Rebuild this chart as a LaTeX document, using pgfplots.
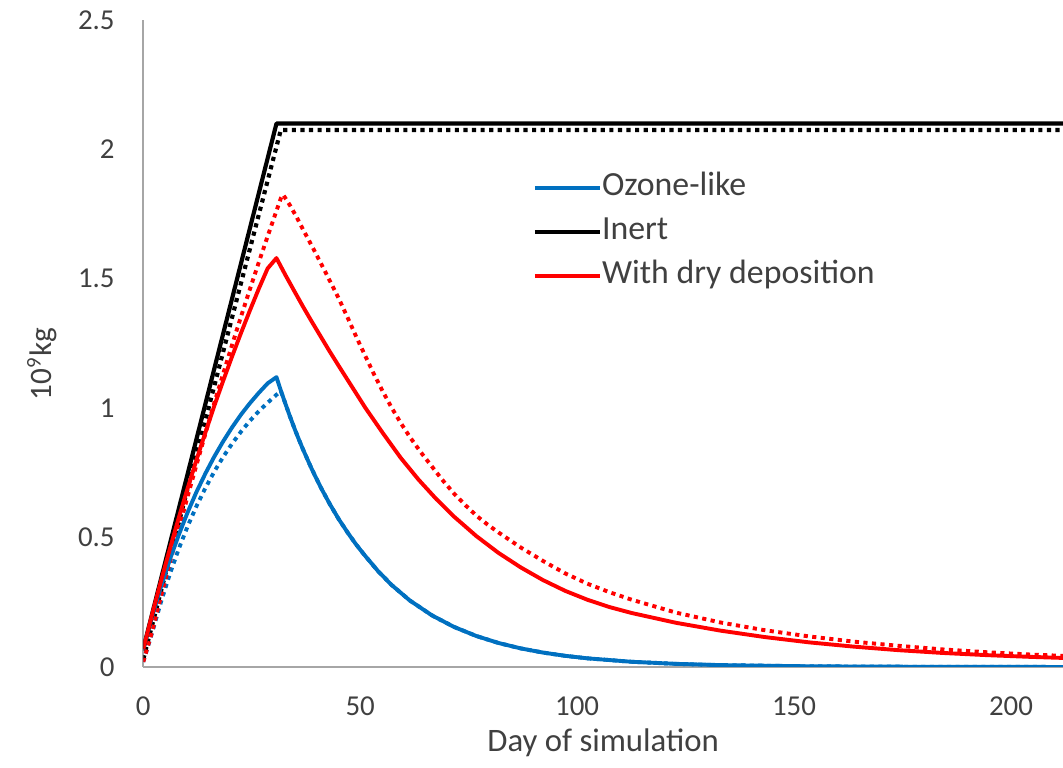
\documentclass[border=0pt]{standalone}
\usepackage{fontspec}
\setmainfont{Carlito}
\usepackage{pgfplots}
\pgfplotsset{compat=1.18}
\definecolor{ozblue}{RGB}{0,112,192}
\definecolor{axgray}{RGB}{166,166,166}
\definecolor{txt}{RGB}{64,64,64}
\newcommand{\tfont}{\fontsize{11.1}{13}\selectfont}
\newcommand{\lfont}{\fontsize{12.6}{15}\selectfont}
\newcommand{\yfont}{\fontsize{12}{15}\selectfont}
\newcommand{\gfont}{\fontsize{13}{15}\selectfont}
\begin{document}
\begin{tikzpicture}
\begin{axis}[
  scale only axis, width=353.7pt, height=248.8pt,
  xmin=0, xmax=212, ymin=0, ymax=2.5,
  axis x line*=bottom, axis y line*=left,
  axis line style={axgray, line width=0.8pt},
  xtick={0,50,100,150,200}, ytick={0,0.5,1,1.5,2,2.5},
  major tick length=0pt,
  /pgf/number format/assume math mode=true,
  tick label style={font=\tfont, text=txt},
  yticklabel style={xshift=-7.5pt},
  xticklabel style={anchor=base, yshift=-18.5pt},
  every axis x label/.style={at={(axis description cs:0.5,-0.1314)}, anchor=base, font=\lfont, text=txt},
  every axis y label/.style={at={(axis description cs:-0.11,0.468)}, rotate=90, anchor=center, font=\yfont, text=txt},
  xlabel={Day of simulation},
  ylabel={10\textsuperscript{9}kg},
  legend style={at={(axis description cs:0.423,0.6723)}, anchor=west, draw=none, fill=none,
    font=\gfont, text=txt, inner sep=0pt, row sep=5.9pt,
    nodes={inner sep=0pt, text height=8.5pt, text depth=2.5pt}},
  legend cell align=left,
  legend image code/.code={\draw[#1] (0pt,0pt) -- (25pt,0pt);},
  line join=round,
]
% dotted series (no legend)
\addplot[forget plot, ozblue, line width=1.5pt, dash pattern=on 1.6pt off 1.7pt] coordinates {
(0,0.02)(2.05,0.133)(4.09,0.252)(6.14,0.360)(8.19,0.457)(10.23,0.544)(12.28,0.622)(14.33,0.692)(16.37,0.755)(18.42,0.812)(20.47,0.863)(22.51,0.909)(24.56,0.951)(26.61,0.988)(28.66,1.021)(30.70,1.052)(31.73,1.066)(33.77,0.970)(34.80,0.924)(35.82,0.881)(36.84,0.840)(38.89,0.763)(40.94,0.693)(42.98,0.630)(45.03,0.572)(47.08,0.520)(49.12,0.472)(51.17,0.429)(54.24,0.368)(57.31,0.316)(61.40,0.2575)(66.52,0.1996)(71.64,0.1547)(76.76,0.1198)(81.87,0.0928)(86.99,0.0719)(92.11,0.0558)(97.22,0.0432)(102.34,0.0335)(112.57,0.0201)(122.81,0.0121)(133.04,0.0073)(153.51,0.0026)(184.21,0.0005)(212,0.0001)};
\addplot[forget plot, black, line width=1.6pt, dash pattern=on 1.6pt off 1.7pt] coordinates {
(0,0.03)(31.7,2.075)(212,2.075)};
\addplot[forget plot, red, line width=1.5pt, dash pattern=on 1.6pt off 1.7pt] coordinates {
(0,0.02)(2.05,0.138)(4.09,0.274)(6.14,0.405)(8.19,0.533)(10.23,0.660)(12.28,0.782)(14.33,0.902)(16.37,1.020)(18.42,1.133)(20.47,1.245)(22.51,1.353)(24.56,1.459)(26.61,1.563)(28.66,1.664)(30.70,1.763)(31.73,1.812)(32.24,1.825)(33.77,1.785)(35.30,1.74)(36.84,1.69)(38.89,1.626)(40.94,1.56)(42.98,1.493)(45.03,1.425)(47.08,1.351)(49.12,1.275)(51.17,1.202)(53.22,1.13)(55.26,1.063)(57.31,1.0)(59.35,0.943)(61.40,0.89)(63.96,0.830)(66.52,0.775)(69.08,0.720)(71.64,0.67)(74.20,0.626)(76.76,0.585)(79.31,0.551)(81.87,0.52)(86.99,0.462)(92.11,0.41)(97.22,0.362)(102.34,0.322)(107.46,0.289)(112.57,0.26)(122.81,0.21)(133.04,0.172)(143.28,0.142)(153.51,0.118)(163.74,0.098)(173.98,0.082)(184.21,0.068)(194.45,0.057)(204.68,0.048)(212,0.043)};
% solid series
\addplot[ozblue, line width=1.5pt] coordinates {
(0,0.068)(2.05,0.196)(4.09,0.311)(6.14,0.416)(8.19,0.511)(10.23,0.598)(12.28,0.677)(14.33,0.748)(16.37,0.813)(18.42,0.872)(20.47,0.926)(22.51,0.975)(24.56,1.019)(26.61,1.059)(28.66,1.096)(30.70,1.12)(31.73,1.067)(32.75,1.018)(33.77,0.970)(34.80,0.924)(35.82,0.881)(36.84,0.840)(38.89,0.763)(40.94,0.693)(42.98,0.630)(45.03,0.572)(47.08,0.520)(49.12,0.472)(51.17,0.429)(54.24,0.368)(57.31,0.316)(61.40,0.2575)(66.52,0.1996)(71.64,0.1547)(76.76,0.1198)(81.87,0.0928)(86.99,0.0719)(92.11,0.0558)(97.22,0.0432)(102.34,0.0335)(112.57,0.0201)(122.81,0.0121)(133.04,0.0073)(153.51,0.0026)(184.21,0.0005)(212,0.0001)};
\addlegendentry{Ozone-like}
\addplot[black, line width=1.6pt] coordinates {
(0,0.07)(30.7,2.1)(212,2.1)};
\addlegendentry{Inert}
\addplot[red, line width=1.5pt] coordinates {
(0,0.069)(2.05,0.204)(4.09,0.333)(6.14,0.457)(8.19,0.577)(10.23,0.691)(12.28,0.801)(14.33,0.907)(16.37,1.009)(18.42,1.106)(20.47,1.200)(22.51,1.290)(24.56,1.377)(26.61,1.461)(28.66,1.540)(30.70,1.58)(32.75,1.515)(34.80,1.453)(36.84,1.392)(38.89,1.333)(40.94,1.276)(42.98,1.219)(45.03,1.164)(48.10,1.083)(51.17,1.002)(55.26,0.903)(59.35,0.808)(63.45,0.724)(67.54,0.649)(71.64,0.581)(76.76,0.506)(81.87,0.441)(86.99,0.385)(92.11,0.336)(97.22,0.2945)(102.34,0.260)(107.46,0.2316)(112.57,0.2086)(122.81,0.1707)(133.04,0.1405)(143.28,0.1156)(153.51,0.0951)(163.74,0.0787)(173.98,0.0651)(184.21,0.0543)(194.45,0.0458)(204.68,0.0390)(212,0.0350)};
\addlegendentry{With dry deposition}
\coordinate (bl) at (rel axis cs:0,0);
\coordinate (tr) at (rel axis cs:1,1);
\end{axis}
\pgfresetboundingbox
\path ([xshift=-55.1pt,yshift=-38.8pt]bl) rectangle ([yshift=7.7pt]tr);
\end{tikzpicture}
\end{document}
